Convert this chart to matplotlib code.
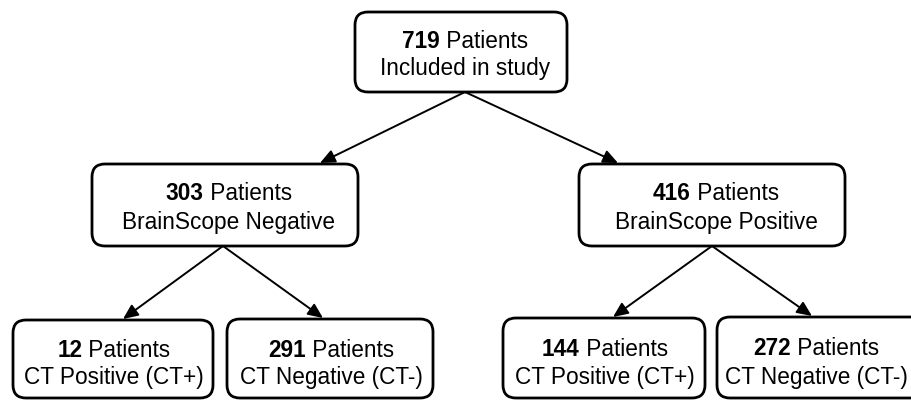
import matplotlib.pyplot as plt
from matplotlib.patches import FancyBboxPatch

plt.rcParams['font.family'] = ['Liberation Sans', 'DejaVu Sans']

# patient counts and labels, one per node
counts = [719, 303, 416, 12, 291, 144, 272]
labels = ['Included in study', 'BrainScope Negative', 'BrainScope Positive',
          'CT Positive (CT+)', 'CT Negative (CT-)',
          'CT Positive (CT+)', 'CT Negative (CT-)']
# parent -> child edges
edges = [(0, 1), (0, 2), (1, 3), (1, 4), (2, 5), (2, 6)]

# box geometry in pixels: x0, y0 (top), x1, y1 (bottom)
boxes = [(355, 13, 567, 93),
         (92, 165, 358, 247), (579, 165, 845, 247),
         (13, 321, 213, 399), (227, 320, 433, 399),
         (503, 319, 705, 399), (717, 318, 925, 399)]
# arrow tip positions per child, start x per parent
tips = {1: (320, 164), 2: (618, 164), 3: (123, 320), 4: (323, 319),
        5: (613, 318), 6: (812, 317)}
starts = {0: 465, 1: 223, 2: 712}
# horizontal text shift per box (the last box is clipped by the page edge)
text_dx = [4, 4, 4, 1, 1, 1, -5]

fig = plt.figure(figsize=(9.11, 4.02), dpi=100)
ax = fig.add_axes([0, 0, 1, 1])
ax.set_xlim(0, 911)
ax.set_ylim(402, 0)
ax.axis('off')

fs = 16.3
for (x0, y0, x1, y1) in boxes:
    ax.add_patch(FancyBboxPatch((x0, y0), x1 - x0, y1 - y0,
                                boxstyle='round,pad=0,rounding_size=13',
                                fc='white', ec='black', lw=2, zorder=2))

for p, c in edges:
    ys = boxes[p][3]
    ax.annotate('', xy=tips[c], xytext=(starts[p], ys),
                arrowprops=dict(arrowstyle='-|>,head_length=0.9,head_width=0.4',
                                color='black', lw=1.4, shrinkA=0, shrinkB=0),
                zorder=3)

fig.canvas.draw()
renderer = fig.canvas.get_renderer()
for i, (x0, y0, x1, y1) in enumerate(boxes):
    cx = (x0 + x1) / 2 + text_dx[i]
    h = y1 - y0
    ya = y0 + h * (0.35 if i < 3 else 0.38)
    yb = y0 + h * (0.70 if i < 3 else 0.73)
    t1 = ax.text(0, ya, str(counts[i]), fontsize=fs, fontweight='bold',
                 ha='left', va='center', zorder=4)
    t2 = ax.text(0, ya, ' Patients', fontsize=fs, ha='left', va='center', zorder=4)
    w1 = t1.get_window_extent(renderer).width
    w2 = t2.get_window_extent(renderer).width
    left = cx - (w1 + w2) / 2
    t1.set_x(left)
    t2.set_x(left + w1)
    ax.text(cx, yb, labels[i], fontsize=fs, ha='center', va='center', zorder=4)

fig.savefig('out.png', dpi=100)
